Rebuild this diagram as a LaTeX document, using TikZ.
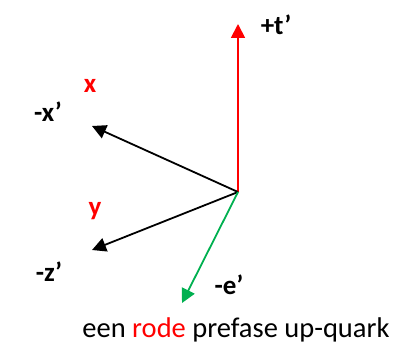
\documentclass[tikz,border=0pt]{standalone}
\usepackage{fontspec}
\setmainfont{Carlito}
\usetikzlibrary{arrows.meta}
\definecolor{myred}{RGB}{255,0,0}
\definecolor{mygreen}{RGB}{0,176,80}
\begin{document}
\begin{tikzpicture}[x=1pt,y=-1pt,
  vec/.style={line width=1.8pt,-{Triangle[length=14pt,width=14pt]}},
  lab/.style={font=\fontsize{27}{30}\selectfont\bfseries,inner sep=0pt}]
\useasboundingbox (0,0) rectangle (403,347);
\coordinate (o) at (238,192);
\coordinate (t) at (238,24);
\coordinate (xx) at (92,126);
\coordinate (zz) at (92,250);
\coordinate (ee) at (182,303);
\draw[vec,myred] (o) -- (t);
\draw[vec,black] (o) -- (xx);
\draw[vec,black] (o) -- (zz);
\draw[vec,mygreen] (o) -- (ee);
\node[lab] (lt) at (276,25) {+t\textquoteright};
\node[lab,text=myred] (lx) at (90,86) {x};
\node[lab] (lxp) at (48,112) {-x\textquoteright};
\node[lab,text=myred] (ly) at (95,211) {y};
\node[lab] (lzp) at (49,272) {-z\textquoteright};
\node[lab] (lep) at (229,285) {-e\textquoteright};
\node[font=\fontsize{28.5}{32}\selectfont,inner sep=0pt] (cap) at (236,330) {een \textcolor{myred}{rode} prefase up-quark};
\end{tikzpicture}
\end{document}
